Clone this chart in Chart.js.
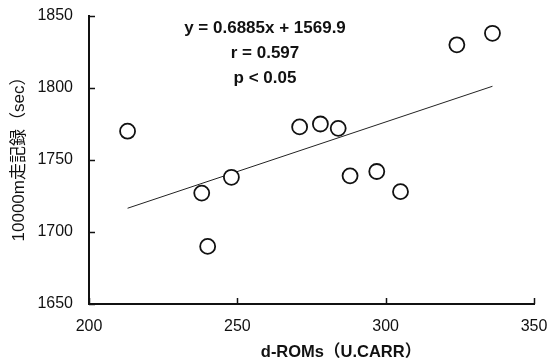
<!DOCTYPE html>
<html>
<head>
<meta charset="utf-8">
<script src="https://cdn.jsdelivr.net/npm/chart.js@4/dist/chart.umd.min.js"></script>
<style>
  html, body { margin: 0; padding: 0; background: #fff; }
  #wrap { width: 548px; height: 363px; }
</style>
</head>
<body>
<div id="wrap"><canvas id="scatterChart"></canvas></div>
<script>
// d-ROMs vs 10000m record
const dromX = [213, 238, 240, 248, 271, 278, 284, 288, 297, 305, 324, 336];
const runSec = [1770, 1727, 1690, 1738, 1773, 1775, 1772, 1739, 1742, 1728, 1830, 1838];

// regression line endpoints (y = 0.6885x + 1569.9)
const trendX = [213, 336];
const trendY = [1716.5, 1801.2];

const xTicks = [200, 250, 300, 350];
const yTicks = [1650, 1700, 1750, 1800, 1850];

const statLines = ['y = 0.6885x + 1569.9', 'r = 0.597', 'p < 0.05'];
const xTitle = 'd-ROMs\uFF08U.CARR\uFF09';
const yTitle = '10000m走記録\uFF08sec\uFF09';

const latinFont = '"Liberation Sans", Arial, "Noto Sans CJK JP", sans-serif';

// inward tick marks + texts
const decorPlugin = {
    id: 'decor',
    afterDraw(chart) {
        const ctx = chart.ctx;
        const xs = chart.scales.x;
        const ys = chart.scales.y;
        const area = chart.chartArea;
        ctx.save();
        ctx.strokeStyle = '#111';
        ctx.lineWidth = 1.5;
        xTicks.forEach(v => {
            const px = Math.round(xs.getPixelForValue(v)) + 0.5;
            ctx.beginPath();
            ctx.moveTo(px, area.bottom);
            ctx.lineTo(px, area.bottom - 6);
            ctx.stroke();
        });
        yTicks.forEach(v => {
            const py = Math.round(ys.getPixelForValue(v)) + 0.5;
            ctx.beginPath();
            ctx.moveTo(area.left, py);
            ctx.lineTo(area.left + 6, py);
            ctx.stroke();
        });

        // regression stats
        ctx.fillStyle = '#111';
        ctx.font = 'bold 17px ' + latinFont;
        ctx.textAlign = 'center';
        ctx.textBaseline = 'alphabetic';
        statLines.forEach((t, i) => {
            ctx.fillText(t, 265, 33 + i * 25);
        });

        // axis titles
        ctx.font = 'bold 16.5px ' + latinFont;
        ctx.textBaseline = 'middle';
        ctx.fillText(xTitle, 341, 352);

        ctx.font = '17px ' + latinFont;
        ctx.translate(19, 155);
        ctx.rotate(-Math.PI / 2);
        ctx.fillText(yTitle, 0, 0);
        ctx.restore();
    }
};

const ctx = document.getElementById('scatterChart');
new Chart(ctx, {
    type: 'scatter',
    data: {
        datasets: [{
            label: 'data',
            data: dromX.map((x, i) => ({ x: x, y: runSec[i] })),
            pointRadius: 7.5,
            pointHoverRadius: 7.5,
            pointBackgroundColor: '#fff',
            pointBorderColor: '#111',
            pointBorderWidth: 1.8
        }, {
            label: 'trend',
            type: 'line',
            data: trendX.map((x, i) => ({ x: x, y: trendY[i] })),
            borderColor: '#222',
            borderWidth: 1,
            pointRadius: 0,
            fill: false
        }]
    },
    options: {
        responsive: true,
        maintainAspectRatio: false,
        animation: false,
        layout: {
            padding: { top: 16, right: 14, left: 0, bottom: 0 }
        },
        plugins: {
            legend: { display: false },
            tooltip: { enabled: false }
        },
        scales: {
            x: {
                type: 'linear',
                min: 200,
                max: 350,
                grid: { display: false, drawTicks: false },
                border: { display: true, color: '#111', width: 2 },
                ticks: {
                    stepSize: 50,
                    padding: 13,
                    color: '#111',
                    font: { family: latinFont, size: 16 },
                    callback: v => String(v)
                },
                afterFit(scale) {
                    scale.height = 59;
                    scale.paddingLeft = 0;
                    scale.paddingRight = 0;
                }
            },
            y: {
                type: 'linear',
                min: 1650,
                max: 1850,
                grid: { display: false, drawTicks: false },
                border: { display: true, color: '#111', width: 2 },
                ticks: {
                    stepSize: 50,
                    padding: 16,
                    color: '#111',
                    font: { family: latinFont, size: 16 },
                    callback: v => String(v)
                },
                afterFit(scale) {
                    scale.width = 89;
                    scale.paddingTop = 0;
                    scale.paddingBottom = 0;
                }
            }
        }
    },
    plugins: [decorPlugin]
});
</script>
</body>
</html>
